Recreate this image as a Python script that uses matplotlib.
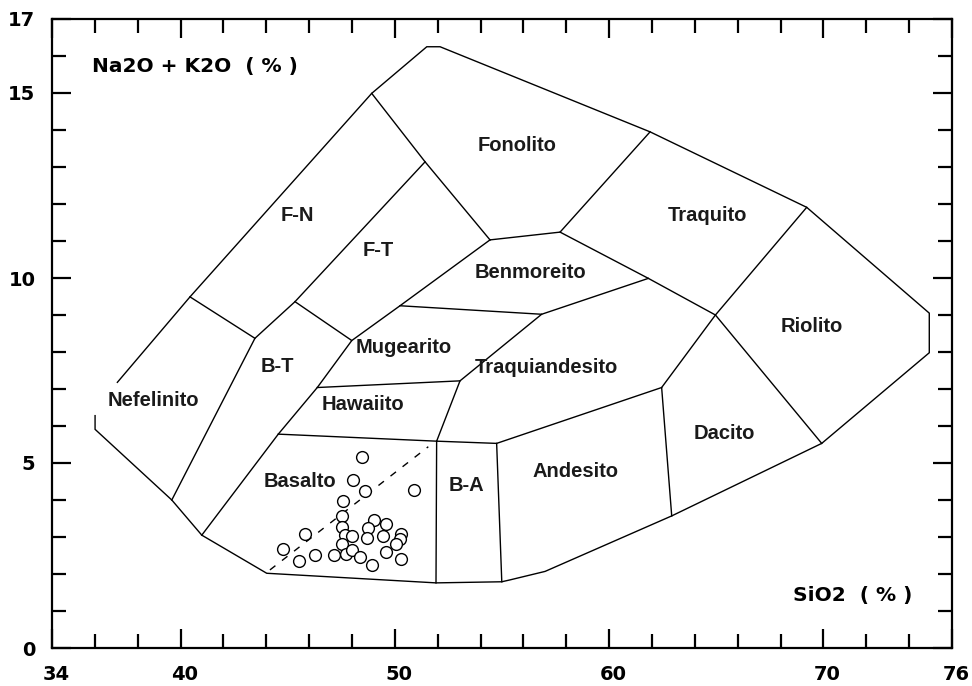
import matplotlib
matplotlib.use("Agg")
import matplotlib.pyplot as plt
from matplotlib.ticker import FixedLocator, MultipleLocator
import matplotlib.transforms as mtransforms

# ---- data: TAS field boundaries (SiO2, Na2O+K2O) ----
outer_boundary = [(36.01, 6.28), (36.01, 5.91), (39.59, 4.00), (40.99, 3.05), (44.02, 2.02),
                  (51.92, 1.76), (54.99, 1.79), (55.37, 1.84), (57.01, 2.07), (62.92, 3.57),
                  (69.92, 5.53), (74.94, 7.98), (74.94, 9.05), (69.22, 11.91), (61.91, 13.95),
                  (52.11, 16.25), (51.49, 16.25), (48.92, 14.99), (40.44, 9.49), (37.05, 7.18)]
nef_bt = [(39.59, 4.00), (43.47, 8.37), (40.44, 9.49)]
fn_ft = [(43.47, 8.37), (45.34, 9.36), (51.41, 13.14)]
fn_top = [(48.92, 14.99), (51.41, 13.14), (54.44, 11.03)]
bt_right = [(40.99, 3.05), (44.56, 5.78), (46.38, 7.04), (47.99, 8.31), (45.34, 9.36)]
ft_bottom = [(47.99, 8.31), (50.24, 9.25), (54.44, 11.03)]
fonolito_bottom = [(54.44, 11.03), (57.71, 11.24), (61.91, 13.95)]
traquito_bottom = [(57.71, 11.24), (61.83, 9.99), (64.96, 9.00), (69.92, 5.53)]
traquito_right = [(69.22, 11.91), (64.96, 9.00), (62.45, 7.04), (62.92, 3.57)]
mugearito_top = [(50.24, 9.25), (56.85, 9.02), (61.83, 9.99)]
hawaiito_top = [(46.38, 7.04), (53.04, 7.22)]
ta_left = [(56.85, 9.02), (53.04, 7.22), (51.95, 5.59), (51.92, 1.76)]
basalto_top = [(44.56, 5.78), (51.95, 5.59)]
andesito_top = [(51.95, 5.59), (54.75, 5.53), (62.45, 7.04)]
ba_right = [(54.75, 5.53), (54.99, 1.79)]
boundaries = [outer_boundary, nef_bt, fn_ft, fn_top, bt_right, ft_bottom, fonolito_bottom,
              traquito_bottom, traquito_right, mugearito_top, hawaiito_top, ta_left,
              basalto_top, andesito_top, ba_right]

dashed_line = [(44.17, 2.11), (51.56, 5.44)]

# ---- samples ----
sio2 = [48.45, 48.06, 48.61, 50.89, 47.57, 47.52, 47.52, 45.81, 47.67, 47.99,
        49.03, 49.57, 48.73, 48.69, 49.46, 50.27, 50.24, 50.04, 47.52, 44.79,
        46.27, 45.53, 47.16, 47.71, 47.99, 48.37, 49.57, 48.92, 50.30]
alk = [5.15, 4.54, 4.24, 4.27, 3.97, 3.57, 3.28, 3.07, 3.05, 3.04,
       3.46, 3.34, 3.24, 2.96, 3.03, 3.07, 2.95, 2.80, 2.80, 2.67,
       2.51, 2.36, 2.51, 2.54, 2.65, 2.47, 2.60, 2.24, 2.41]

# ---- field labels ----
field_names = ["Fonolito", "F-N", "F-T", "Traquito", "Benmoreito", "Riolito", "Mugearito",
               "B-T", "Traquiandesito", "Nefelinito", "Hawaiito", "Dacito", "Basalto",
               "Andesito", "B-A"]
field_x = [55.70, 45.43, 49.21, 64.61, 56.35, 69.47, 50.43, 44.50, 57.05, 38.71, 48.51,
           65.36, 45.57, 58.41, 53.32]
field_y = [13.59, 11.68, 10.73, 11.68, 10.16, 8.68, 8.11, 7.62, 7.59, 6.70, 6.57, 5.81,
           4.49, 4.78, 4.38]

x_major = [34, 40, 50, 60, 70, 76]
y_major = [0, 5, 10, 15, 17]

fig = plt.figure(figsize=(9.72, 6.86), dpi=100)
ax = fig.add_axes([52 / 972, 1 - 648 / 686, 900 / 972, 629 / 686])
ax.set_xlim(34, 76)
ax.set_ylim(0, 17)

for seg in boundaries:
    xs = [p[0] for p in seg]
    ys = [p[1] for p in seg]
    ax.plot(xs, ys, color="black", lw=1.0, solid_joinstyle="miter")

ax.plot([p[0] for p in dashed_line], [p[1] for p in dashed_line], color="black",
        lw=1.0, linestyle=(0, (5, 6)))

ax.scatter(sio2, alk, s=72, facecolors="white", edgecolors="black", linewidths=1.0, zorder=3)

for name, fx, fy in zip(field_names, field_x, field_y):
    ax.text(fx, fy, name, ha="center", va="center", fontsize=14.5, fontweight="bold",
            family="Liberation Sans", color="#1a1a1a")

ax.text(35.85, 15.72, "Na2O + K2O  ( % )", ha="left", va="center", fontsize=14.5,
        fontweight="bold", family="DejaVu Sans")
ax.text(68.6, 1.43, "SiO2  ( % )", ha="left", va="center", fontsize=14.5,
        fontweight="bold", family="DejaVu Sans")

for s in ax.spines.values():
    s.set_linewidth(1.6)

ax.xaxis.set_major_locator(FixedLocator(x_major))
ax.xaxis.set_minor_locator(MultipleLocator(2))
ax.yaxis.set_major_locator(FixedLocator(y_major))
ax.yaxis.set_minor_locator(MultipleLocator(1))
ax.set_xticklabels([str(v) for v in x_major])
ax.set_yticklabels([str(v) for v in y_major])
ax.tick_params(which="both", direction="in", top=True, right=True, width=1.6)
ax.tick_params(which="major", length=14, pad=12, labelsize=14)
ax.tick_params(which="minor", length=10)
for lab in ax.get_xticklabels() + ax.get_yticklabels():
    lab.set_fontweight("bold")
    lab.set_family("DejaVu Sans")
offset = mtransforms.ScaledTranslation(4 / 100, 0, fig.dpi_scale_trans)
for lab in ax.get_xticklabels():
    lab.set_transform(lab.get_transform() + offset)

fig.savefig("out.png", dpi=100, facecolor="white")
